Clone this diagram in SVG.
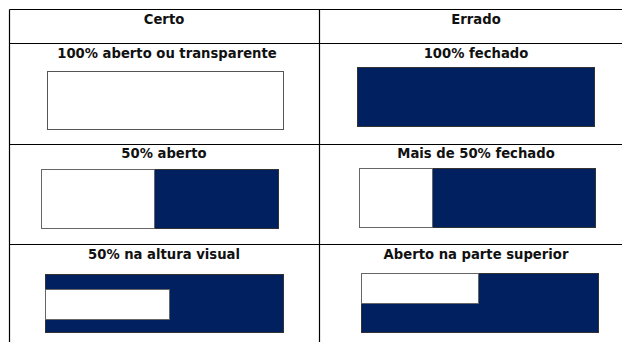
<svg xmlns="http://www.w3.org/2000/svg" width="622" height="342" viewBox="0 0 622 342">
<style>
.t{font-family:"DejaVu Sans","Liberation Sans",sans-serif;font-weight:bold;font-size:13.2px;fill:#111;text-anchor:middle}
.g{stroke:#000;stroke-width:1.2;fill:none}
.w{fill:#fff;stroke:#555;stroke-width:1}
.n{fill:#002060;stroke:#333;stroke-width:1}
.o{fill:#fff;stroke:#666;stroke-width:1}
</style>
<rect width="622" height="342" fill="#fff"/>
<g id="grid">
<path class="g" d="M9.5 9.5H622M9.5 43.5H622M9.5 144.5H622M9.5 244.5H622M9.5 9.5V342M319.5 9.5V342"/>
</g>
<g id="header">
<text class="t" x="164" y="24">Certo</text>
<text class="t" x="476" y="24">Errado</text>
</g>
<g id="r1c1">
<text class="t" x="167" y="58">100% aberto ou transparente</text>
<rect class="w" x="47.5" y="71.5" width="236" height="58"/>
</g>
<g id="r1c2">
<text class="t" x="476" y="58">100% fechado</text>
<rect class="n" x="357.5" y="67.5" width="237" height="59"/>
</g>
<g id="r2c1">
<text class="t" x="164" y="158">50% aberto</text>
<rect class="n" x="41.5" y="169.5" width="237" height="59"/>
<rect class="o" x="41.5" y="169.5" width="113" height="59"/>
</g>
<g id="r2c2">
<text class="t" x="476" y="158">Mais de 50% fechado</text>
<rect class="n" x="359.5" y="168.5" width="236" height="59"/>
<rect class="o" x="359.5" y="168.5" width="73" height="59"/>
</g>
<g id="r3c1">
<text class="t" x="164" y="259">50% na altura visual</text>
<rect class="n" x="45.5" y="274.5" width="238" height="58"/>
<rect class="o" x="45.5" y="289.5" width="124" height="30"/>
</g>
<g id="r3c2">
<text class="t" x="476" y="259">Aberto na parte superior</text>
<rect class="n" x="361.5" y="273.5" width="237" height="59"/>
<rect class="o" x="361.5" y="273.5" width="117" height="30"/>
</g>
</svg>
